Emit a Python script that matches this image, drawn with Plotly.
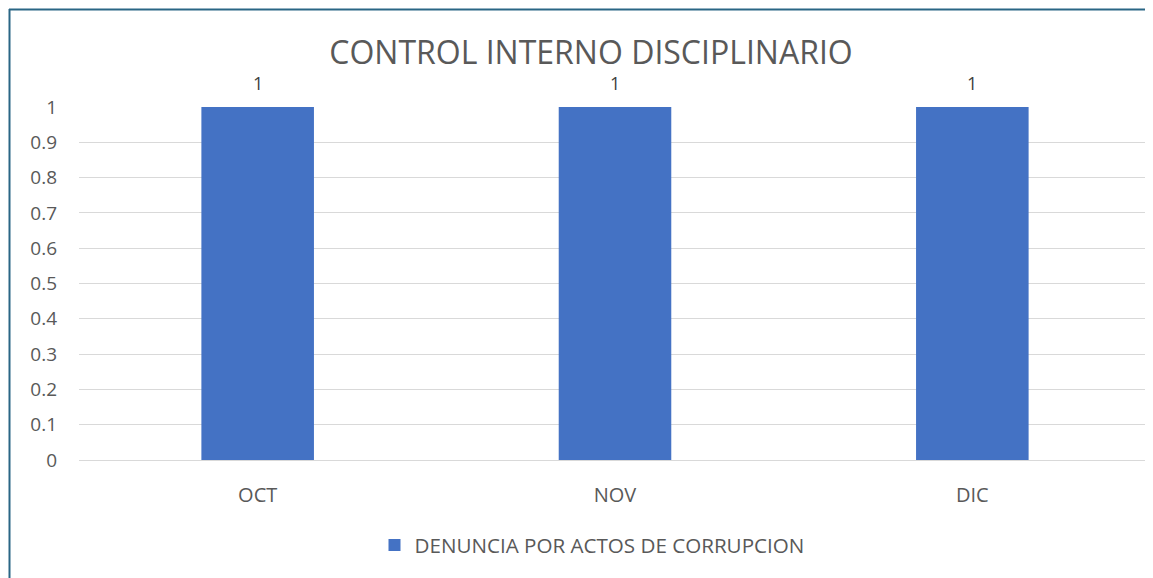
import plotly.graph_objects as go

categories = ["OCT", "NOV", "DIC"]
values = [1, 1, 1]
series_name = "DENUNCIA POR ACTOS DE CORRUPCION"
title_text = "CONTROL INTERNO DISCIPLINARIO"
y_ticks = [0, 0.1, 0.2, 0.3, 0.4, 0.5, 0.6, 0.7, 0.8, 0.9, 1]
y_labels = ["0", "0.1", "0.2", "0.3", "0.4", "0.5", "0.6", "0.7", "0.8", "0.9", "1"]

OFF = 8  # page body margin
W, H = 1153 - OFF, 578 - OFF
L, R, T, B = 79 - OFF, 10 - OFF, 107 - OFF, 118
pw, ph = W - L - R, H - T - B

FONT = "'Open Sans', sans-serif"

fig = go.Figure()
fig.add_trace(go.Bar(
    x=categories, y=values, name=series_name,
    marker=dict(color="#4472c4", line=dict(width=0)),
    width=0.315,
    cliponaxis=False,
))

annotations = [
    dict(x=c, y=v, xref="x", yref="y", text=str(v), showarrow=False,
         yshift=24, font=dict(size=18, color="#404040", family=FONT))
    for c, v in zip(categories, values)
]

def px_x(px):
    return (px - OFF - L) / pw

def px_y(py):
    return (H - B - (py - OFF)) / ph

border = "#2a6685"
shapes = [
    dict(type="line", xref="paper", yref="paper",
         x0=px_x(9.5), x1=px_x(9.5), y0=px_y(9), y1=px_y(H + 20),
         line=dict(color=border, width=2)),
    dict(type="line", xref="paper", yref="paper",
         x0=px_x(9), x1=px_x(W + 30), y0=px_y(9.5), y1=px_y(9.5),
         line=dict(color=border, width=2)),
]

fig.update_layout(
    width=W, height=H,
    margin=dict(l=L, r=R, t=T, b=B, pad=0),
    paper_bgcolor="white", plot_bgcolor="white",
    font=dict(family=FONT, color="#595959", size=16),
    title=dict(text=title_text, x=px_x(591), xanchor="center", xref="paper",
               y=1 - (53 - OFF) / H, yanchor="middle",
               font=dict(size=32, color="#595959", family=FONT)),
    bargap=0.685,
    showlegend=True,
    legend=dict(orientation="h", x=px_x(592), xanchor="center",
                y=px_y(545), yanchor="middle",
                font=dict(size=20.6, color="#595959", family=FONT),
                itemwidth=30),
    xaxis=dict(showgrid=False, showline=True, linecolor="#d9d9d9", linewidth=1,
               ticks="", tickfont=dict(size=20, color="#595959"),
               ticklabelstandoff=17),
    yaxis=dict(range=[0, 1], tickvals=y_ticks, ticktext=y_labels,
               showgrid=True, gridcolor="#d9d9d9", gridwidth=1,
               zeroline=False, showline=False, ticks="",
               tickfont=dict(size=19, color="#595959"),
               ticklabelstandoff=21),
    shapes=shapes,
    annotations=annotations,
)

fig.write_html("out.html")
